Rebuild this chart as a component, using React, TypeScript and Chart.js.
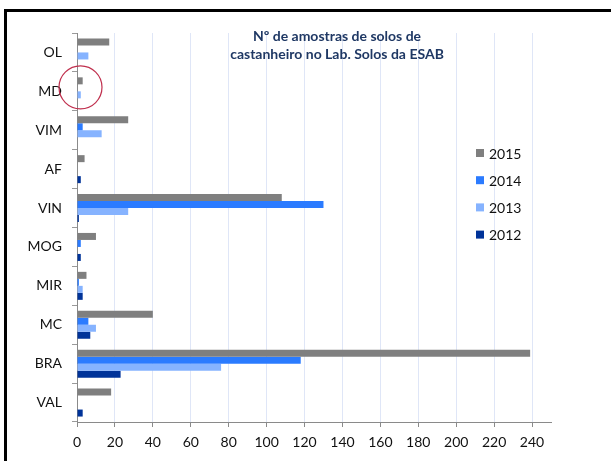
import React, { useEffect, useRef } from "react";
import { Chart, registerables } from "chart.js";

Chart.register(...registerables);

const categories = ["OL", "MD", "VIM", "AF", "VIN", "MOG", "MIR", "MC", "BRA", "VAL"];
const seriesNames = ["2015", "2014", "2013", "2012"];
const values2015 = [17, 3, 27, 4, 108, 10, 5, 40, 239, 18];
const values2014 = [0, 0, 3, 0, 130, 2, 1, 6, 118, 0];
const values2013 = [6, 2, 13, 0, 27, 0, 3, 10, 76, 0];
const values2012 = [0, 0, 0, 2, 1, 2, 3, 7, 23, 3];
const seriesColors = ["#7f7f7f", "#2b7bff", "#86b3ff", "#003399"];
const titleLines = ["Nº de amostras de solos de", "castanheiro no Lab. Solos da ESAB"];
const xMax = 250;
const xStep = 20;

const FONT = "Lato, 'Open Sans', sans-serif";

const decorPlugin = {
  id: "decor",
  beforeDraw(chart: any) {
    const ctx = chart.ctx;
    ctx.save();
    ctx.fillStyle = "#ffffff";
    ctx.fillRect(0, 0, chart.width, chart.height);
    ctx.fillStyle = "#000000";
    ctx.fillRect(4, 9, chart.width - 4, 3);
    ctx.fillRect(4, 9, 3, chart.height - 9);
    ctx.restore();
  },
  afterDraw(chart: any) {
    const ctx = chart.ctx;
    const xs = chart.scales.x;
    const ys = chart.scales.y;
    ctx.save();
    // title
    ctx.fillStyle = "#1f3864";
    ctx.font = `bold 14px ${FONT}`;
    ctx.textAlign = "center";
    ctx.textBaseline = "middle";
    titleLines.forEach((t, i) => ctx.fillText(t, 337, 36 + i * 18));
    // legend
    ctx.font = `14px ${FONT}`;
    ctx.textAlign = "left";
    chart.data.datasets.forEach((ds: any, i: number) => {
      const y = 153 + i * 27.2;
      ctx.fillStyle = ds.backgroundColor;
      ctx.fillRect(476, y - 4, 8, 8);
      ctx.fillStyle = "#111111";
      ctx.fillText(ds.label, 489, y + 1);
    });
    // annotation circle around MD
    const cx = xs.getPixelForValue(0) + 3.5;
    const cy = ys.getPixelForValue(1) - 4;
    ctx.strokeStyle = "#c0304e";
    ctx.lineWidth = 1.2;
    ctx.beginPath();
    ctx.arc(cx, cy, 21.5, 0, Math.PI * 2);
    ctx.stroke();
    ctx.restore();
  },
};

export default function App() {
  const ref = useRef<HTMLCanvasElement | null>(null);
  useEffect(() => {
    if (!ref.current) return;
    const all = [values2015, values2014, values2013, values2012];
    const chart = new Chart(ref.current, {
      type: "bar",
      data: {
        labels: categories,
        datasets: seriesNames.map((name, i) => ({
          label: name,
          data: all[i],
          backgroundColor: seriesColors[i],
          borderWidth: 0,
          categoryPercentage: 0.72,
          barPercentage: 1,
        })),
      },
      options: {
        indexAxis: "y",
        animation: false,
        responsive: false,
        devicePixelRatio: 1,
        layout: { padding: { left: 0, right: 60, top: 33, bottom: 0 } },
        plugins: {
          legend: { display: false },
          title: { display: false },
          tooltip: { enabled: false },
        },
        scales: {
          x: {
            min: 0,
            max: xMax,
            afterFit: (scale: any) => {
              scale.height = 39;
            },
            ticks: {
              stepSize: xStep,
              includeBounds: false,
              color: "#111111",
              font: { family: FONT, size: 14 },
              padding: 7,
              maxRotation: 0,
            },
            grid: {
              color: "#dfe6f7",
              tickColor: "#8a8a8a",
              tickLength: 5,
              lineWidth: 1,
            },
            border: { display: true, color: "#8a8a8a", width: 1 },
          },
          y: {
            afterFit: (scale: any) => {
              scale.width = 77;
            },
            ticks: {
              color: "#111111",
              font: { family: FONT, size: 14 },
              padding: 10,
            },
            grid: {
              drawOnChartArea: false,
              drawTicks: true,
              tickLength: 5,
              tickColor: "#9a9a9a",
              offset: true,
            },
            border: { display: true, color: "#8a8a8a", width: 1 },
          },
        },
      },
      plugins: [decorPlugin],
    } as any);
    return () => chart.destroy();
  }, []);
  return (
    <div style={{ position: "fixed", left: 0, top: 0, width: 611, height: 461 }}>
      <canvas ref={ref} width={611} height={461} style={{ display: "block" }} />
    </div>
  );
}
